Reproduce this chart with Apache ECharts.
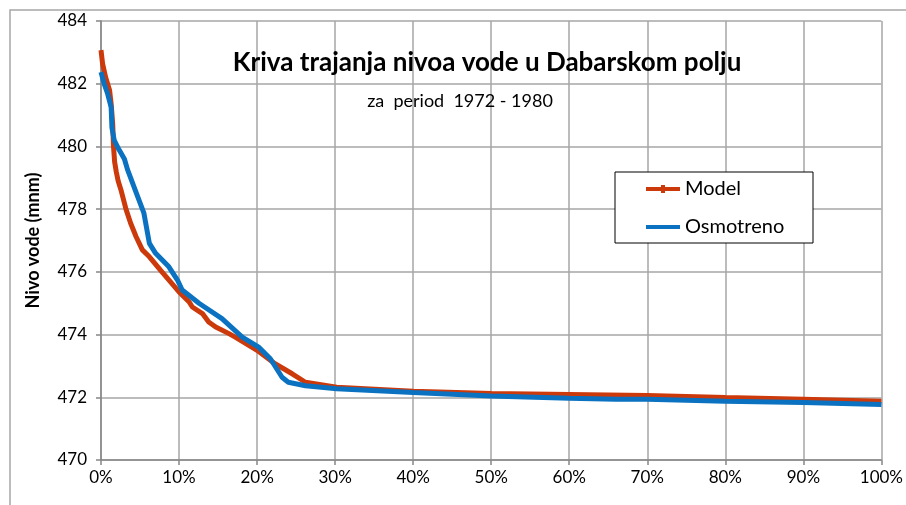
<!DOCTYPE html>
<html>
<head>
<meta charset="utf-8">
<script src="https://cdn.jsdelivr.net/npm/echarts@6/dist/echarts.min.js"></script>
<style>
  html, body { margin: 0; padding: 0; background: #fff; }
  #chart { width: 906px; height: 505px; }
</style>
</head>
<body>
<div id="chart"></div>
<script>
// exceedance (% of time) vs water level (m a.s.l.)
const modelX = [0, 0.2, 0.6, 1.1, 1.3, 1.5, 1.6, 1.75, 1.95, 2.2, 2.55, 3.2, 3.8, 4.5, 5.3, 6.2, 7.7, 10, 11.3, 11.7, 13.0, 13.8, 14.7, 16.4, 17.2, 20, 22.3, 24.5, 26.2, 30.2, 40, 50, 60, 70, 80, 90, 100];
const modelY = [483.07, 482.64, 482.2, 481.79, 481.36, 480.72, 480.0, 479.5, 479.2, 478.9, 478.62, 478.0, 477.55, 477.12, 476.7, 476.48, 476.03, 475.36, 475.04, 474.88, 474.67, 474.4, 474.24, 474.03, 473.92, 473.5, 473.07, 472.75, 472.48, 472.32, 472.19, 472.12, 472.09, 472.06, 471.99, 471.94, 471.87];

const obsX = [0, 0.4, 0.85, 1.3, 1.4, 1.7, 2.3, 3.0, 3.4, 4.7, 5.5, 6.2, 7.0, 8.7, 9.8, 10.4, 12.6, 15.5, 18.1, 20.2, 21.7, 23.2, 24.0, 26.2, 30.2, 40, 50, 60, 66, 70, 80, 90, 100];
const obsY = [482.37, 482.0, 481.68, 481.25, 480.6, 480.19, 479.9, 479.6, 479.26, 478.4, 477.87, 476.91, 476.59, 476.16, 475.74, 475.42, 474.99, 474.51, 473.92, 473.6, 473.23, 472.64, 472.48, 472.37, 472.27, 472.15, 472.04, 471.97, 471.94, 471.94, 471.87, 471.83, 471.77];

const xTicks = { min: 0, max: 100, step: 10 };
const yTicks = { min: 470, max: 484, step: 2 };

const FONT = 'Lato, "Open Sans", sans-serif';
const RED = '#cc3a0c';
const BLUE = '#0a72c0';

const chart = echarts.init(document.getElementById('chart'));

chart.setOption({
  backgroundColor: '#fff',
  animation: false,
  textStyle: { fontFamily: FONT },
  grid: { left: 101, right: 22, top: 21, bottom: 45, containLabel: false },
  graphic: [
    {
      type: 'rect', silent: true, z: -1,
      shape: { x: 10, y: 10, width: 920, height: 520 },
      style: { fill: 'none', stroke: '#a6a6a6', lineWidth: 1.5 },
    },
    {
      type: 'text', z: 10,
      style: {
        x: 487, y: 63, text: 'Kriva trajanja nivoa vode u Dabarskom polju',
        textAlign: 'center', textVerticalAlign: 'middle',
        font: 'bold 26px ' + FONT, fill: '#000',
      },
    },
    {
      type: 'text', z: 10,
      style: {
        x: 460, y: 101, text: 'za  period  1972 - 1980',
        textAlign: 'center', textVerticalAlign: 'middle',
        font: '18px ' + FONT, fill: '#000',
      },
    },
    {
      type: 'rect', z: 5,
      shape: { x: 615, y: 172, width: 198, height: 71 },
      style: { fill: '#fff', stroke: '#000', lineWidth: 1 },
    },
  ],
  legend: {
    left: 646,
    top: 178,
    orient: 'vertical',
    padding: 0,
    itemWidth: 34,
    itemHeight: 10,
    itemGap: 16,
    z: 10,
    textStyle: { fontSize: 20, color: '#000', lineHeight: 22 },
    data: [
      { name: 'Model', icon: 'path://M0,2 L15,2 L15,0 L19,0 L19,2 L34,2 L34,6 L19,6 L19,8 L15,8 L15,6 L0,6 Z' },
      { name: 'Osmotreno', icon: 'path://M0,0 L34,0 L34,4 L0,4 Z' },
    ],
  },
  xAxis: {
    type: 'value',
    min: xTicks.min,
    max: xTicks.max,
    interval: xTicks.step,
    axisLine: { show: true, lineStyle: { color: '#868686', width: 1.5 } },
    axisTick: { show: true, length: 5, lineStyle: { color: '#868686', width: 1.5 } },
    axisLabel: { fontSize: 17, color: '#000', margin: 9, formatter: '{value}%' },
    splitLine: { show: true, lineStyle: { color: '#a6a6a6', width: 1.5 } },
  },
  yAxis: {
    type: 'value',
    min: yTicks.min,
    max: yTicks.max,
    interval: yTicks.step,
    name: 'Nivo vode (mnm)',
    nameLocation: 'middle',
    nameGap: 59,
    nameTextStyle: { fontSize: 18, fontWeight: 'bold', color: '#000' },
    axisLine: { show: true, lineStyle: { color: '#868686', width: 1.5 } },
    axisTick: { show: true, length: 5, lineStyle: { color: '#868686', width: 1.5 } },
    axisLabel: { fontSize: 17, color: '#000', margin: 14 },
    splitLine: { show: true, lineStyle: { color: '#a6a6a6', width: 1.5 } },
  },
  series: [
    {
      name: 'Model',
      type: 'line',
      data: modelX.map((x, i) => [x, modelY[i]]),
      symbol: 'none',
      itemStyle: { color: RED },
      lineStyle: { color: RED, width: 5 },
      z: 2,
    },
    {
      name: 'Osmotreno',
      type: 'line',
      data: obsX.map((x, i) => [x, obsY[i]]),
      symbol: 'none',
      itemStyle: { color: BLUE },
      lineStyle: { color: BLUE, width: 5 },
      z: 3,
    },
  ],
});
</script>
</body>
</html>
